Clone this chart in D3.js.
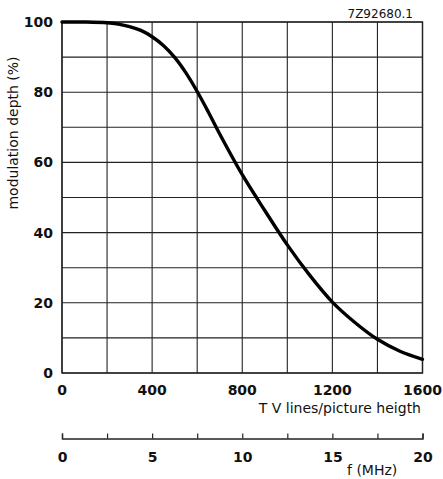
<!DOCTYPE html>
<html>
<head>
<meta charset="utf-8">
<script src="https://cdn.jsdelivr.net/npm/d3@7"></script>
<style>
  html, body { margin: 0; padding: 0; background: #fff; }
  svg { display: block; }
  text { font-family: "DejaVu Sans", sans-serif; fill: #111; }
</style>
</head>
<body>
<svg id="chart" width="443" height="479"></svg>
<script>
// ---- data ----
const tvLines = [0, 100, 200, 250, 300, 350, 400, 450, 500, 550, 600, 650, 700, 800, 900, 1000, 1100, 1200, 1300, 1400, 1500, 1600];
const modulationDepth = [100, 100, 99.8, 99.4, 98.7, 97.6, 95.8, 93.3, 89.9, 85.5, 80.2, 74.3, 68.1, 56.5, 46.3, 36.5, 27.8, 20.2, 14.4, 9.6, 6.2, 3.9];
const xTickValues = [0, 400, 800, 1200, 1600];
const yTickValues = [0, 20, 40, 60, 80, 100];
const fTickValues = [0, 2.5, 5, 7.5, 10, 12.5, 15, 17.5, 20];
const fLabelValues = [0, 5, 10, 15, 20];
const xLabel = "T V lines/picture heigth";
const yLabel = "modulation depth (%)";
const fLabel = "f (MHz)";
const figCode = "7Z92680.1";

const svg = d3.select("#chart");
const pL = 62, pR = 422.5, pT = 22, pB = 373;

const x = d3.scaleLinear().domain([0, 1600]).range([pL, pR]);
const y = d3.scaleLinear().domain([0, 100]).range([pB, pT]);
const f = d3.scaleLinear().domain([0, 20]).range([pL, pR]);

// grid
const grid = svg.append("g").attr("stroke", "#222").attr("stroke-width", 1.1);
d3.range(0, 1601, 200).forEach(v => {
  grid.append("line").attr("x1", x(v)).attr("x2", x(v)).attr("y1", pT).attr("y2", pB);
});
d3.range(0, 101, 10).forEach(v => {
  grid.append("line").attr("x1", pL).attr("x2", pR).attr("y1", y(v)).attr("y2", y(v));
});
// frame
svg.append("rect").attr("x", pL).attr("y", pT).attr("width", pR - pL).attr("height", pB - pT)
  .attr("fill", "none").attr("stroke", "#222").attr("stroke-width", 1.4);

// curve
const line = d3.line().x((d, i) => x(tvLines[i])).y(d => y(d)).curve(d3.curveCatmullRom.alpha(0.5));
svg.append("path").datum(modulationDepth).attr("d", line)
  .attr("fill", "none").attr("stroke", "#000").attr("stroke-width", 3.4).attr("stroke-linecap", "round");

// x tick labels
svg.append("g").selectAll("text").data(xTickValues).join("text")
  .attr("x", d => x(d)).attr("y", 395).attr("text-anchor", "middle")
  .attr("font-size", 14).attr("font-weight", "bold").text(d => d);

// y tick labels
svg.append("g").selectAll("text").data(yTickValues).join("text")
  .attr("x", 53).attr("y", d => y(d) + 5).attr("text-anchor", "end")
  .attr("font-size", 14).attr("font-weight", "bold").text(d => d);

// axis titles
svg.append("text").attr("x", 421).attr("y", 413).attr("text-anchor", "end")
  .attr("font-size", 14).text(xLabel);
svg.append("text").attr("transform", "translate(18,133) rotate(-90)").attr("text-anchor", "middle")
  .attr("font-size", 14).text(yLabel);

// frequency axis
const fAxis = d3.axisBottom(f).tickValues(fTickValues).tickSizeInner(-5).tickSizeOuter(-5)
  .tickFormat(d => fLabelValues.includes(d) ? d : "").tickPadding(14);
const fg = svg.append("g").attr("transform", "translate(0,438.5)").call(fAxis);
fg.select(".domain").attr("stroke", "#222").attr("stroke-width", 1.4);
fg.selectAll(".tick line").attr("stroke", "#222").attr("stroke-width", 1.2);
fg.selectAll(".tick text").attr("font-size", 14).attr("font-weight", "bold")
  .attr("font-family", "DejaVu Sans, sans-serif").attr("fill", "#111");

svg.append("text").attr("x", 347).attr("y", 475).attr("font-size", 14).text(fLabel);

// figure code
svg.append("text").attr("x", 413).attr("y", 17.5).attr("text-anchor", "end")
  .attr("font-size", 12).text(figCode);
</script>
</body>
</html>
